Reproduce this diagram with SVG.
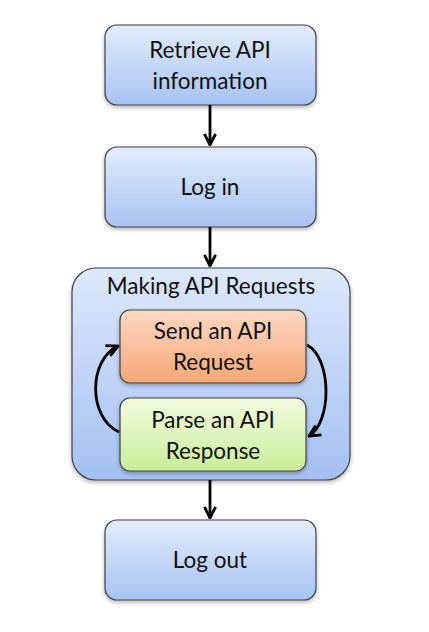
<svg xmlns="http://www.w3.org/2000/svg" width="429" height="632" viewBox="0 0 429 632">
<defs>
<linearGradient id="gBlue" x1="0" y1="0" x2="0" y2="1">
<stop offset="0" stop-color="#e2ecfc"/>
<stop offset="1" stop-color="#a6c3f3"/>
</linearGradient>
<linearGradient id="gCont" x1="0" y1="0" x2="0" y2="1">
<stop offset="0" stop-color="#dde8fb"/>
<stop offset="1" stop-color="#a3c0f2"/>
</linearGradient>
<linearGradient id="gOrange" x1="0" y1="0" x2="0" y2="1">
<stop offset="0" stop-color="#fcd9c2"/>
<stop offset="1" stop-color="#f5a676"/>
</linearGradient>
<linearGradient id="gGreen" x1="0" y1="0" x2="0" y2="1">
<stop offset="0" stop-color="#f3fbe0"/>
<stop offset="1" stop-color="#c8ee98"/>
</linearGradient>
<filter id="sh" x="-10%" y="-10%" width="120%" height="130%">
<feGaussianBlur in="SourceAlpha" stdDeviation="2"/>
<feOffset dx="0" dy="2" result="b"/>
<feComponentTransfer><feFuncA type="linear" slope="0.3"/></feComponentTransfer>
<feMerge><feMergeNode/><feMergeNode in="SourceGraphic"/></feMerge>
</filter>
<marker id="ah" viewBox="0 0 10 10" refX="9" refY="5" markerWidth="5" markerHeight="5" orient="auto" markerUnits="strokeWidth">
<path d="M1,1 L9,5 L1,9" fill="none" stroke="#000" stroke-width="2"/>
</marker>
</defs>
<style>
.box{stroke:#404040;stroke-width:1.2;filter:url(#sh)}
.t{font-family:"Lato","Open Sans","Liberation Sans",sans-serif;font-size:22.5px;fill:#111;text-anchor:middle}
.c{fill:none;stroke:#000;stroke-width:2.8;marker-end:url(#ah)}
</style>
<rect width="429" height="632" fill="#fff"/>
<g id="retrieve">
<rect class="box" x="105" y="25" width="211" height="80" rx="12" fill="url(#gBlue)"/>
<text class="t" x="210" y="58">Retrieve API</text>
<text class="t" x="210" y="89">information</text>
</g>
<g id="login">
<rect class="box" x="105" y="147" width="211" height="80" rx="12" fill="url(#gBlue)"/>
<text class="t" x="210" y="195">Log in</text>
</g>
<g id="making">
<rect class="box" x="72" y="268" width="278" height="212" rx="24" fill="url(#gCont)"/>
<text class="t" x="211" y="294">Making API Requests</text>
</g>
<g id="send">
<rect class="box" x="120" y="310" width="186" height="73" rx="10" fill="url(#gOrange)"/>
<text class="t" x="213" y="339">Send an API</text>
<text class="t" x="213" y="370">Request</text>
</g>
<g id="parse">
<rect class="box" x="120" y="398" width="186" height="73" rx="10" fill="url(#gGreen)"/>
<text class="t" x="213" y="428">Parse an API</text>
<text class="t" x="213" y="459">Response</text>
</g>
<g id="logout">
<rect class="box" x="105" y="520" width="211" height="80" rx="12" fill="url(#gBlue)"/>
<text class="t" x="210" y="568">Log out</text>
</g>
<g id="connectors">
<path class="c" d="M210,105 L210,145"/>
<path class="c" d="M210,227 L210,266"/>
<path class="c" d="M210,480 L210,518"/>
<path class="c" d="M119,432 C88,418 88,360 118,346"/>
<path class="c" d="M307,345 C332,358 332,422 309,436"/>
</g>
</svg>
